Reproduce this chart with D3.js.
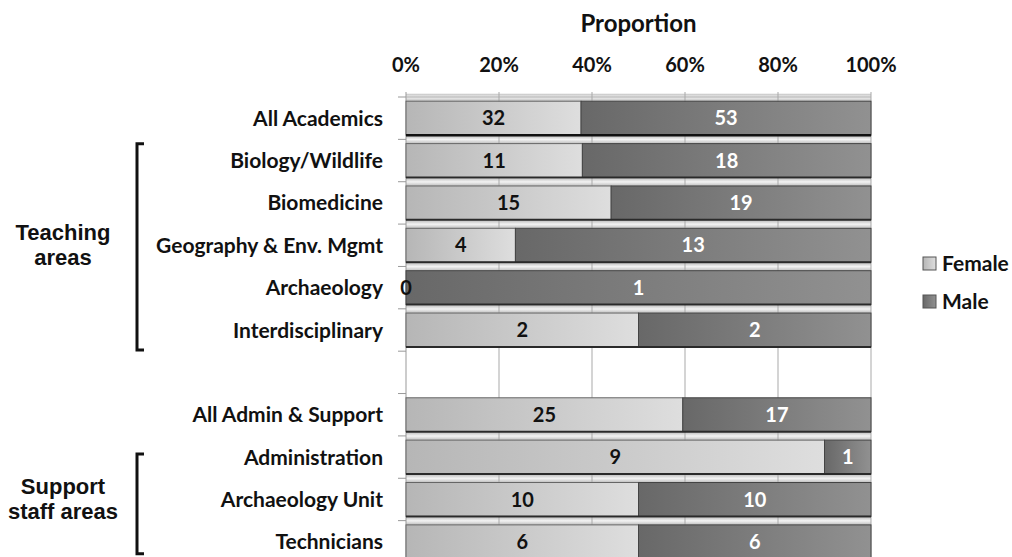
<!DOCTYPE html>
<html>
<head>
<meta charset="utf-8">
<script src="https://cdn.jsdelivr.net/npm/d3@7"></script>
<style>
body { margin: 0; background: #fff; }
text { font-family: Lato, "Open Sans", sans-serif; font-weight: bold; }
</style>
</head>
<body>
<div id="chart"></div>
<script>
var categories = ["All Academics", "Biology/Wildlife", "Biomedicine", "Geography & Env. Mgmt",
    "Archaeology", "Interdisciplinary", "", "All Admin & Support", "Administration",
    "Archaeology Unit", "Technicians"];
var female = [32, 11, 15, 4, 0, 2, null, 25, 9, 10, 6];
var male = [53, 18, 19, 13, 1, 2, null, 17, 1, 10, 6];
var tickValues = [0, 0.2, 0.4, 0.6, 0.8, 1];
var seriesNames = ["Female", "Male"];
var groups = [
    {lines: ["Teaching", "areas"], from: "Biology/Wildlife", to: "Interdisciplinary", padTop: 4.5, padBottom: 3},
    {lines: ["Support", "staff areas"], from: "Administration", to: "Technicians", padTop: 18, padBottom: -5}
];

var margin = {top: 97, right: 141, bottom: 0, left: 406},
    width = 1012 - margin.left - margin.right,
    height = 466;

var svg = d3.select("#chart")
    .append("svg")
    .attr("width", 1012)
    .attr("height", 557);

// gradients
var defs = svg.append("defs");
function grad(id, c0, c1) {
    var g = defs.append("linearGradient").attr("id", id)
        .attr("x1", "0%").attr("x2", "100%").attr("y1", "0%").attr("y2", "0%");
    g.append("stop").attr("offset", "0%").attr("stop-color", c0);
    g.append("stop").attr("offset", "100%").attr("stop-color", c1);
}
grad("gFemale", "#b6b6b6", "#dedede");
grad("gMale", "#686868", "#919191");
var sg = defs.append("linearGradient").attr("id", "gStrip")
    .attr("x1", "0%").attr("x2", "0%").attr("y1", "0%").attr("y2", "100%");
sg.append("stop").attr("offset", "0%").attr("stop-color", "#c4c4c4");
sg.append("stop").attr("offset", "45%").attr("stop-color", "#f3f3f3");
sg.append("stop").attr("offset", "100%").attr("stop-color", "#bdbdbd");

var g = svg.append("g")
    .attr("transform", "translate(" + margin.left + "," + margin.top + ")");

var x = d3.scaleLinear().domain([0, 1]).range([0, width]);
var y = d3.scaleBand().domain(categories).range([0, height])
    .paddingInner(0.2).paddingOuter(0.1);

var rows = categories.map(function(c, i) {
    var t = female[i] + male[i];
    return {cat: c, i: i, f: female[i], m: male[i], pf: t ? female[i] / t : 0};
}).filter(d => d.f != null);

var gap = y.step() - y.bandwidth();

// bevel strip between bars
g.selectAll(".strip")
    .data(rows.filter(d => d.i == 0 || female[d.i - 1] != null))
    .enter().append("rect")
    .attr("x", 0).attr("width", width)
    .attr("y", d => y(d.cat) - gap + 1)
    .attr("height", gap - 1)
    .attr("fill", "url(#gStrip)");

// grid
g.selectAll(".grid")
    .data(tickValues)
    .enter().append("line")
    .attr("x1", d => x(d)).attr("x2", d => x(d))
    .attr("y1", -5).attr("y2", height)
    .attr("stroke", d => d == 0 ? "#999" : "#a9a9a9")
    .attr("stroke-width", 1);

g.append("line")
    .attr("x1", 0).attr("x2", width).attr("y1", 0).attr("y2", 0)
    .attr("stroke", "#aaa");

// category ticks
g.selectAll(".ctick")
    .data(d3.range(categories.length + 1))
    .enter().append("line")
    .attr("x1", -8).attr("x2", 0)
    .attr("y1", d => d * y.step()).attr("y2", d => d * y.step())
    .attr("stroke", "#999");

// top tick labels
g.selectAll(".tlab")
    .data(tickValues)
    .enter().append("text")
    .attr("x", d => x(d)).attr("y", -25)
    .attr("text-anchor", "middle")
    .style("font-size", "20px")
    .attr("fill", "#111")
    .text(d => d3.format(".0%")(d));

svg.append("text")
    .attr("x", margin.left + width / 2).attr("y", 32)
    .attr("text-anchor", "middle")
    .style("font-size", "24px")
    .attr("fill", "#111")
    .text("Proportion");

// bars
g.selectAll(".fbar")
    .data(rows.filter(d => d.pf > 0))
    .enter().append("rect")
    .attr("x", x(0))
    .attr("y", d => y(d.cat))
    .attr("width", d => x(d.pf) - x(0))
    .attr("height", y.bandwidth())
    .attr("fill", "url(#gFemale)")
    .attr("stroke", "#666").attr("stroke-width", 1);

g.selectAll(".mbar")
    .data(rows)
    .enter().append("rect")
    .attr("x", d => x(d.pf))
    .attr("y", d => y(d.cat))
    .attr("width", d => x(1) - x(d.pf))
    .attr("height", y.bandwidth())
    .attr("fill", "url(#gMale)")
    .attr("stroke", "#444").attr("stroke-width", 1);

g.selectAll(".bedge")
    .data(rows)
    .enter().append("line")
    .attr("x1", 0).attr("x2", width)
    .attr("y1", d => y(d.cat) + y.bandwidth())
    .attr("y2", d => y(d.cat) + y.bandwidth())
    .attr("stroke", (d, i) => i == 0 ? "#111" : "#2a2a2a")
    .attr("stroke-width", (d, i) => i == 0 ? 2.5 : 2);

// value labels
g.selectAll(".flab")
    .data(rows)
    .enter().append("text")
    .attr("x", d => x(d.pf / 2))
    .attr("y", d => y(d.cat) + y.bandwidth() / 2)
    .attr("dy", "0.36em")
    .attr("text-anchor", "middle")
    .style("font-size", "20px")
    .attr("fill", "#111")
    .text(d => d.f);

g.selectAll(".mlab")
    .data(rows)
    .enter().append("text")
    .attr("x", d => x(d.pf + (1 - d.pf) / 2))
    .attr("y", d => y(d.cat) + y.bandwidth() / 2)
    .attr("dy", "0.36em")
    .attr("text-anchor", "middle")
    .style("font-size", "20px")
    .attr("fill", "#fff")
    .text(d => d.m);

// category labels
g.selectAll(".clab")
    .data(categories.filter(c => c != ""))
    .enter().append("text")
    .attr("x", -23)
    .attr("y", d => y(d) + y.bandwidth() / 2)
    .attr("dy", "0.36em")
    .attr("text-anchor", "end")
    .style("font-size", "21px")
    .attr("fill", "#111")
    .text(d => d);

// group brackets
groups.forEach(function(gr) {
    var y0 = y(gr.from) - gap / 2 + gr.padTop,
        y1 = y(gr.to) + y.bandwidth() + gr.padBottom;
    var bx = -269;
    g.append("path")
        .attr("d", "M" + (bx + 7) + "," + y0 + "H" + bx + "V" + y1 + "H" + (bx + 7))
        .attr("fill", "none").attr("stroke", "#111").attr("stroke-width", 3);
    var mid = (y(gr.from) + y(gr.to) + y.bandwidth()) / 2;
    var t = g.append("text")
        .attr("x", -343).attr("text-anchor", "middle")
        .style("font-family", "'Liberation Sans', Arial, sans-serif")
        .style("font-size", "22px")
        .attr("fill", "#111");
    gr.lines.forEach(function(l, i) {
        t.append("tspan").attr("x", -343)
            .attr("y", mid + (i - 0.5) * 25 + 7)
            .text(l);
    });
});

// legend
var leg = svg.append("g").attr("transform", "translate(923,257)");
seriesNames.forEach(function(s, i) {
    leg.append("rect")
        .attr("x", 0).attr("y", i * 38)
        .attr("width", 13).attr("height", 13)
        .attr("fill", i == 0 ? "url(#gFemale)" : "url(#gMale)")
        .attr("stroke", "#555");
    leg.append("text")
        .attr("x", 19).attr("y", i * 38 + 14)
        .style("font-size", "21px")
        .attr("fill", "#111")
        .text(s);
});
</script>
</body>
</html>
